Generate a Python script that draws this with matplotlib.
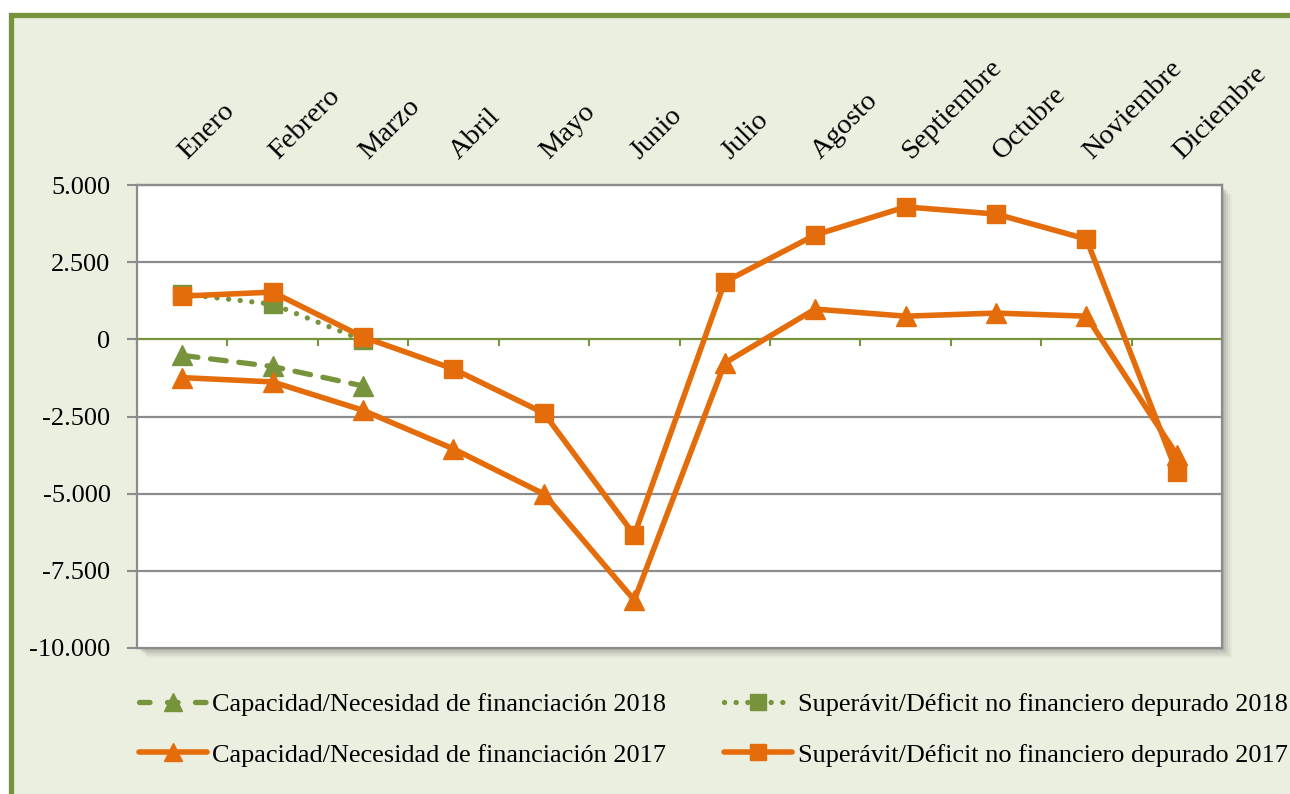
import matplotlib
matplotlib.use("Agg")
import matplotlib.pyplot as plt
from matplotlib.patches import Rectangle
from matplotlib.lines import Line2D
import matplotlib.transforms as mtransforms
from matplotlib.ticker import FuncFormatter

# ── data ─────────────────────────────────────────────────────────────────────
MESES = ["Enero", "Febrero", "Marzo", "Abril", "Mayo", "Junio", "Julio",
         "Agosto", "Septiembre", "Octubre", "Noviembre", "Diciembre"]
CAP_2018 = [-520, -880, -1510]
SUP_2018 = [1470, 1140, -30]
CAP_2017 = [-1240, -1380, -2300, -3550, -5010, -8450, -770, 980, 750, 850,
            750, -3740]
SUP_2017 = [1400, 1530, 75, -960, -2390, -6340, 1860, 3380, 4290, 4060,
            3250, -4300]
LABELS = ["Capacidad/Necesidad de financiación 2018",
          "Superávit/Déficit no financiero depurado 2018",
          "Capacidad/Necesidad de financiación 2017",
          "Superávit/Déficit no financiero depurado 2017"]

# ── colours ──────────────────────────────────────────────────────────────────
GREEN = "#77933C"
ORANGE = "#E46C0A"
BG = "#EBEFDF"
GRID = "#8C8C8C"

plt.rcParams["font.family"] = ["Liberation Serif", "DejaVu Serif"]

W, H = 1290, 794
fig = plt.figure(figsize=(W / 100, H / 100), dpi=100)
fig.patch.set_facecolor("white")

# outer green frame (right/bottom edges fall outside the picture)
fig.add_artist(Rectangle((10.5 / W, -0.1), 1.2, 1 - 15.5 / H + 0.1,
                         transform=fig.transFigure, facecolor=BG,
                         edgecolor=GREEN, linewidth=3.8, zorder=0))

# plot-area position in pixels
L, R, T, B = 137, 1222, 185, 648
# soft shadow bottom-right of the plot area
for k, a in [(10, 0.05), (8, 0.07), (6, 0.09), (4, 0.12), (2, 0.15)]:
    fig.add_artist(Rectangle(((L + k) / W, 1 - (B + k) / H),
                             (R - L) / W, (B - T) / H,
                             transform=fig.transFigure, facecolor="#555555",
                             edgecolor="none", alpha=a, zorder=0.5))

ax = fig.add_axes([L / W, 1 - B / H, (R - L) / W, (B - T) / H])
ax.set_facecolor("white")
ax.set_zorder(1)

x = list(range(len(MESES)))
ax.plot(x[:3], CAP_2018, color=GREEN, lw=3.8, ls=(0, (3.0, 2.4)),
        dash_capstyle="round", marker="^", ms=14, mec=GREEN, zorder=3)
ax.plot(x[:3], SUP_2018, color=GREEN, lw=3.8, ls=(0, (0.01, 2.2)),
        dash_capstyle="round", marker="s", ms=13, mec=GREEN, zorder=3)
ax.plot(x, CAP_2017, color=ORANGE, lw=4.0, marker="^", ms=14,
        mec=ORANGE, zorder=4)
ax.plot(x, SUP_2017, color=ORANGE, lw=4.0, marker="s", ms=13,
        mec=ORANGE, zorder=4)

ax.set_xlim(-0.5, 11.5)
ax.set_ylim(-10000, 5000)

yt = list(range(-10000, 5001, 2500))
ax.set_yticks(yt)
ax.yaxis.set_major_formatter(
    FuncFormatter(lambda v, p: f"{int(v):,}".replace(",", ".")))
ax.tick_params(axis="y", length=7, width=1.5, color=GRID, pad=12,
               labelsize=19)
for v in yt:
    if v != 0:
        ax.axhline(v, color=GRID, lw=1.6, zorder=1, clip_on=False)

for s in ["left", "right", "top"]:
    ax.spines[s].set_color(GRID)
    ax.spines[s].set_linewidth(1.6)
ax.spines["bottom"].set_position(("data", 0))
ax.spines["bottom"].set_color(GREEN)
ax.spines["bottom"].set_linewidth(1.6)
ax.spines["bottom"].set_zorder(2)

ax.set_xticks([i - 0.5 for i in range(len(MESES) + 1)])
ax.set_xticklabels([])
ax.tick_params(axis="x", length=5, width=1.5, color=GREEN, direction="out")

# category labels above the plot area, rotated
trans = mtransforms.blended_transform_factory(ax.transData, ax.transAxes)
for i, m in enumerate(MESES):
    ax.text(i + 0.06, 1.055, m, transform=trans, rotation=45,
            rotation_mode="anchor", ha="left", va="baseline", fontsize=20.5)

# ── legend ───────────────────────────────────────────────────────────────────
h_cap18 = Line2D([], [], color=GREEN, lw=3.8, ls=(0, (2.0, 3.3)),
                 dash_capstyle="round", marker="^", ms=13)
h_sup18 = Line2D([], [], color=GREEN, lw=3.8, ls=(0, (0.01, 2.2)),
                 dash_capstyle="round", marker="s", ms=11)
h_cap17 = Line2D([], [], color=ORANGE, lw=4.0, solid_capstyle="round",
                 marker="^", ms=13)
h_sup17 = Line2D([], [], color=ORANGE, lw=4.0, solid_capstyle="round",
                 marker="s", ms=11)

leg_kw = dict(frameon=False, fontsize=18.9, handlelength=2.6,
              handletextpad=0.2, labelspacing=1.05, borderpad=0,
              borderaxespad=0, loc="center left")
leg1 = fig.legend([h_cap18, h_cap17], [LABELS[0], LABELS[2]],
                  bbox_to_anchor=(139 / W, 1 - 729.5 / H), **leg_kw)
leg2 = fig.legend([h_sup18, h_sup17], [LABELS[1], LABELS[3]],
                  bbox_to_anchor=(724 / W, 1 - 729.5 / H), **leg_kw)

fig.savefig("out.png", dpi=100, facecolor="white")
